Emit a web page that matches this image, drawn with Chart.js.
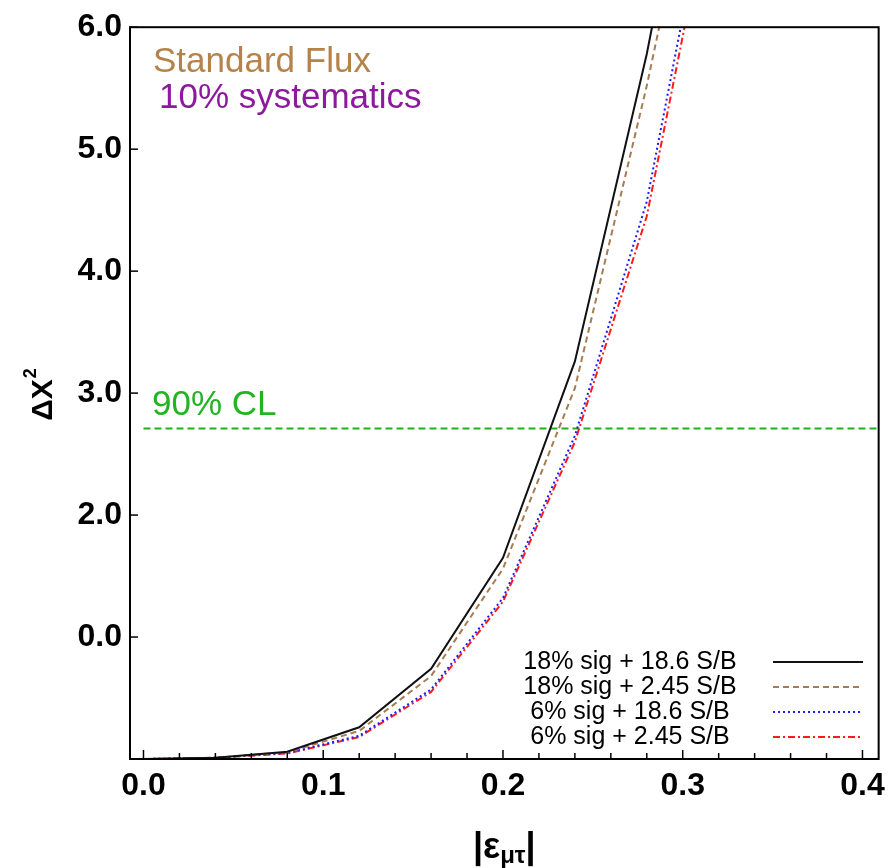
<!DOCTYPE html>
<html>
<head>
<meta charset="utf-8">
<script src="https://cdn.jsdelivr.net/npm/chart.js@4.4.0/dist/chart.umd.min.js"></script>
<style>
  html, body { margin: 0; padding: 0; background: #fff; }
  #wrap { width: 893px; height: 868px; }
</style>
</head>
<body>
<div id="wrap"><canvas id="c" width="893" height="868"></canvas></div>
<script>
// ---- data ----
const epsValues = [0, 0.04, 0.08, 0.12, 0.16, 0.20, 0.24, 0.28, 0.32];
const seriesLabels = ["18% sig + 18.6 S/B", "18% sig + 2.45 S/B", "6% sig + 18.6 S/B", "6% sig + 2.45 S/B"];
const sig18sb186 = [0, 0.01, 0.06, 0.26, 0.74, 1.65, 3.26, 5.78, 8.8];
const sig18sb245 = [0, 0.01, 0.055, 0.23, 0.68, 1.56, 3.04, 5.52, 8.3];
const sig6sb186  = [0, 0.01, 0.05, 0.19, 0.57, 1.32, 2.65, 4.57, 7.6];
const sig6sb245  = [0, 0.01, 0.045, 0.18, 0.55, 1.29, 2.60, 4.45, 7.4];
const clLevel = 2.71;
const clRange = [0, 0.409];
const xTickValues = [0, 0.1, 0.2, 0.3, 0.4];
const xTickLabels = ["0.0", "0.1", "0.2", "0.3", "0.4"];
const xMinorStep = 0.02;
const yTickValues = [1, 2, 3, 4, 5, 6];
const yTickLabels = ["0.0", "2.0", "3.0", "4.0", "5.0", "6.0"];
const annotation1 = "Standard Flux";
const annotation2 = "10% systematics";
const clLabel = "90% CL";

const seriesValues = [sig18sb186, sig18sb245, sig6sb186, sig6sb245];
const seriesStyles = [
  { color: "#111111", dash: [] },
  { color: "#a67c52", dash: [6, 4] },
  { color: "#1a1aff", dash: [2, 3] },
  { color: "#ff1a1a", dash: [7, 3, 2, 3] }
];

const datasets = seriesValues.map((vals, i) => ({
  label: seriesLabels[i],
  data: epsValues.map((x, j) => ({ x: x, y: vals[j] })),
  borderColor: seriesStyles[i].color,
  borderDash: seriesStyles[i].dash,
  borderWidth: 2,
  pointRadius: 0,
  tension: 0,
  fill: false
}));
datasets.push({
  label: clLabel,
  data: clRange.map(x => ({ x: x, y: clLevel })),
  borderColor: "#1fb21f",
  borderDash: [7, 4],
  borderWidth: 2,
  pointRadius: 0,
  fill: false
});

const FONT = "'Liberation Sans', Arial, Helvetica, sans-serif";

const decor = {
  id: "decor",
  afterDraw(chart) {
    const ctx = chart.ctx;
    const a = chart.chartArea;
    const xs = chart.scales.x, ys = chart.scales.y;
    ctx.save();
    // frame
    ctx.strokeStyle = "#000";
    ctx.lineWidth = 2;
    ctx.setLineDash([]);
    ctx.strokeRect(a.left, a.top, a.right - a.left, a.bottom - a.top);
    // x ticks (inside)
    ctx.lineWidth = 1.5;
    const nMinor = Math.round((xs.max - 0) / xMinorStep);
    for (let k = 0; k <= nMinor; k++) {
      const v = k * xMinorStep;
      if (v > xs.max) break;
      const px = xs.getPixelForValue(v);
      const major = k % 5 === 0;
      ctx.beginPath();
      ctx.moveTo(px, a.bottom);
      ctx.lineTo(px, a.bottom - (major ? 9 : 6));
      ctx.stroke();
    }
    // y ticks (inside)
    yTickValues.forEach(v => {
      const py = ys.getPixelForValue(v);
      ctx.beginPath();
      ctx.moveTo(a.left, py);
      ctx.lineTo(a.left + 8, py);
      ctx.stroke();
    });
    // annotations
    ctx.textBaseline = "alphabetic";
    ctx.textAlign = "left";
    ctx.font = "35px " + FONT;
    ctx.fillStyle = "#b5824a";
    ctx.fillText(annotation1, a.left + 23, 72);
    ctx.fillStyle = "#8b1a9c";
    ctx.fillText(annotation2, a.left + 29, 108);
    ctx.fillStyle = "#22b422";
    ctx.fillText(clLabel, a.left + 22, 415);
    // legend
    ctx.font = "25px " + FONT;
    ctx.fillStyle = "#000";
    ctx.textAlign = "center";
    ctx.textBaseline = "middle";
    const rows = [662, 687, 712, 737];
    seriesLabels.forEach((lab, i) => {
      ctx.fillText(lab, 630, rows[i]);
      ctx.beginPath();
      ctx.strokeStyle = seriesStyles[i].color;
      ctx.lineWidth = 2;
      ctx.setLineDash(seriesStyles[i].dash);
      ctx.moveTo(773, rows[i]);
      ctx.lineTo(863, rows[i]);
      ctx.stroke();
    });
    ctx.setLineDash([]);
    // x axis title |ε_{μτ}|
    ctx.fillStyle = "#000";
    ctx.textBaseline = "alphabetic";
    ctx.textAlign = "left";
    const bigFont = "bold 36px " + FONT;
    const subFont = "bold 24px " + FONT;
    ctx.font = bigFont;
    const p1 = "|\u03B5";
    const w1 = ctx.measureText(p1).width;
    ctx.font = subFont;
    const p2 = "\u03BC\u03C4";
    const w2 = ctx.measureText(p2).width;
    ctx.font = bigFont;
    const p3 = "|";
    const w3 = ctx.measureText(p3).width;
    const total = w1 + w2 + w3;
    let cx = (a.left + a.right) / 2 - total / 2;
    const base = 858;
    ctx.fillText(p1, cx, base);
    ctx.font = subFont;
    ctx.fillText(p2, cx + w1, base + 5);
    ctx.font = bigFont;
    ctx.fillText(p3, cx + w1 + w2, base);
    // y axis title ΔX^2
    ctx.save();
    ctx.translate(52, 395);
    ctx.rotate(-Math.PI / 2);
    ctx.font = "bold 30px " + FONT;
    const t1 = "\u0394X";
    const tw = ctx.measureText(t1).width;
    ctx.font = "bold 18px " + FONT;
    const t2 = "2";
    const tw2 = ctx.measureText(t2).width;
    const start = -(tw + tw2) / 2;
    ctx.font = "bold 30px " + FONT;
    ctx.fillText(t1, start, 0);
    ctx.font = "bold 18px " + FONT;
    ctx.fillText(t2, start + tw + 1, -16);
    ctx.restore();
    ctx.restore();
  }
};

new Chart(document.getElementById("c"), {
  type: "line",
  data: { datasets: datasets },
  options: {
    responsive: false,
    animation: false,
    events: [],
    layout: { padding: { left: 0, right: 13, top: 25, bottom: 0 } },
    plugins: { legend: { display: false }, tooltip: { enabled: false } },
    scales: {
      x: {
        type: "linear",
        min: -0.0075,
        max: 0.409,
        border: { display: false },
        grid: { display: false, drawTicks: false },
        afterBuildTicks: s => { s.ticks = xTickValues.map(v => ({ value: v })); },
        afterFit: s => { s.height = 109; },
        ticks: {
          color: "#000",
          padding: 8,
          maxRotation: 0,
          autoSkip: false,
          font: { family: FONT, size: 32, weight: "bold" },
          callback: (v) => { const i = xTickValues.findIndex(t => Math.abs(t - v) < 1e-9); return i >= 0 ? xTickLabels[i] : ""; }
        }
      },
      y: {
        type: "linear",
        min: 0,
        max: 6,
        border: { display: false },
        grid: { display: false, drawTicks: false },
        afterBuildTicks: s => { s.ticks = yTickValues.map(v => ({ value: v })); },
        afterFit: s => { s.width = 130; },
        ticks: {
          color: "#000",
          padding: 8,
          autoSkip: false,
          font: { family: FONT, size: 32, weight: "bold" },
          callback: (v) => { const i = yTickValues.indexOf(v); return i >= 0 ? yTickLabels[i] : ""; }
        }
      }
    }
  },
  plugins: [decor]
});
</script>
</body>
</html>
